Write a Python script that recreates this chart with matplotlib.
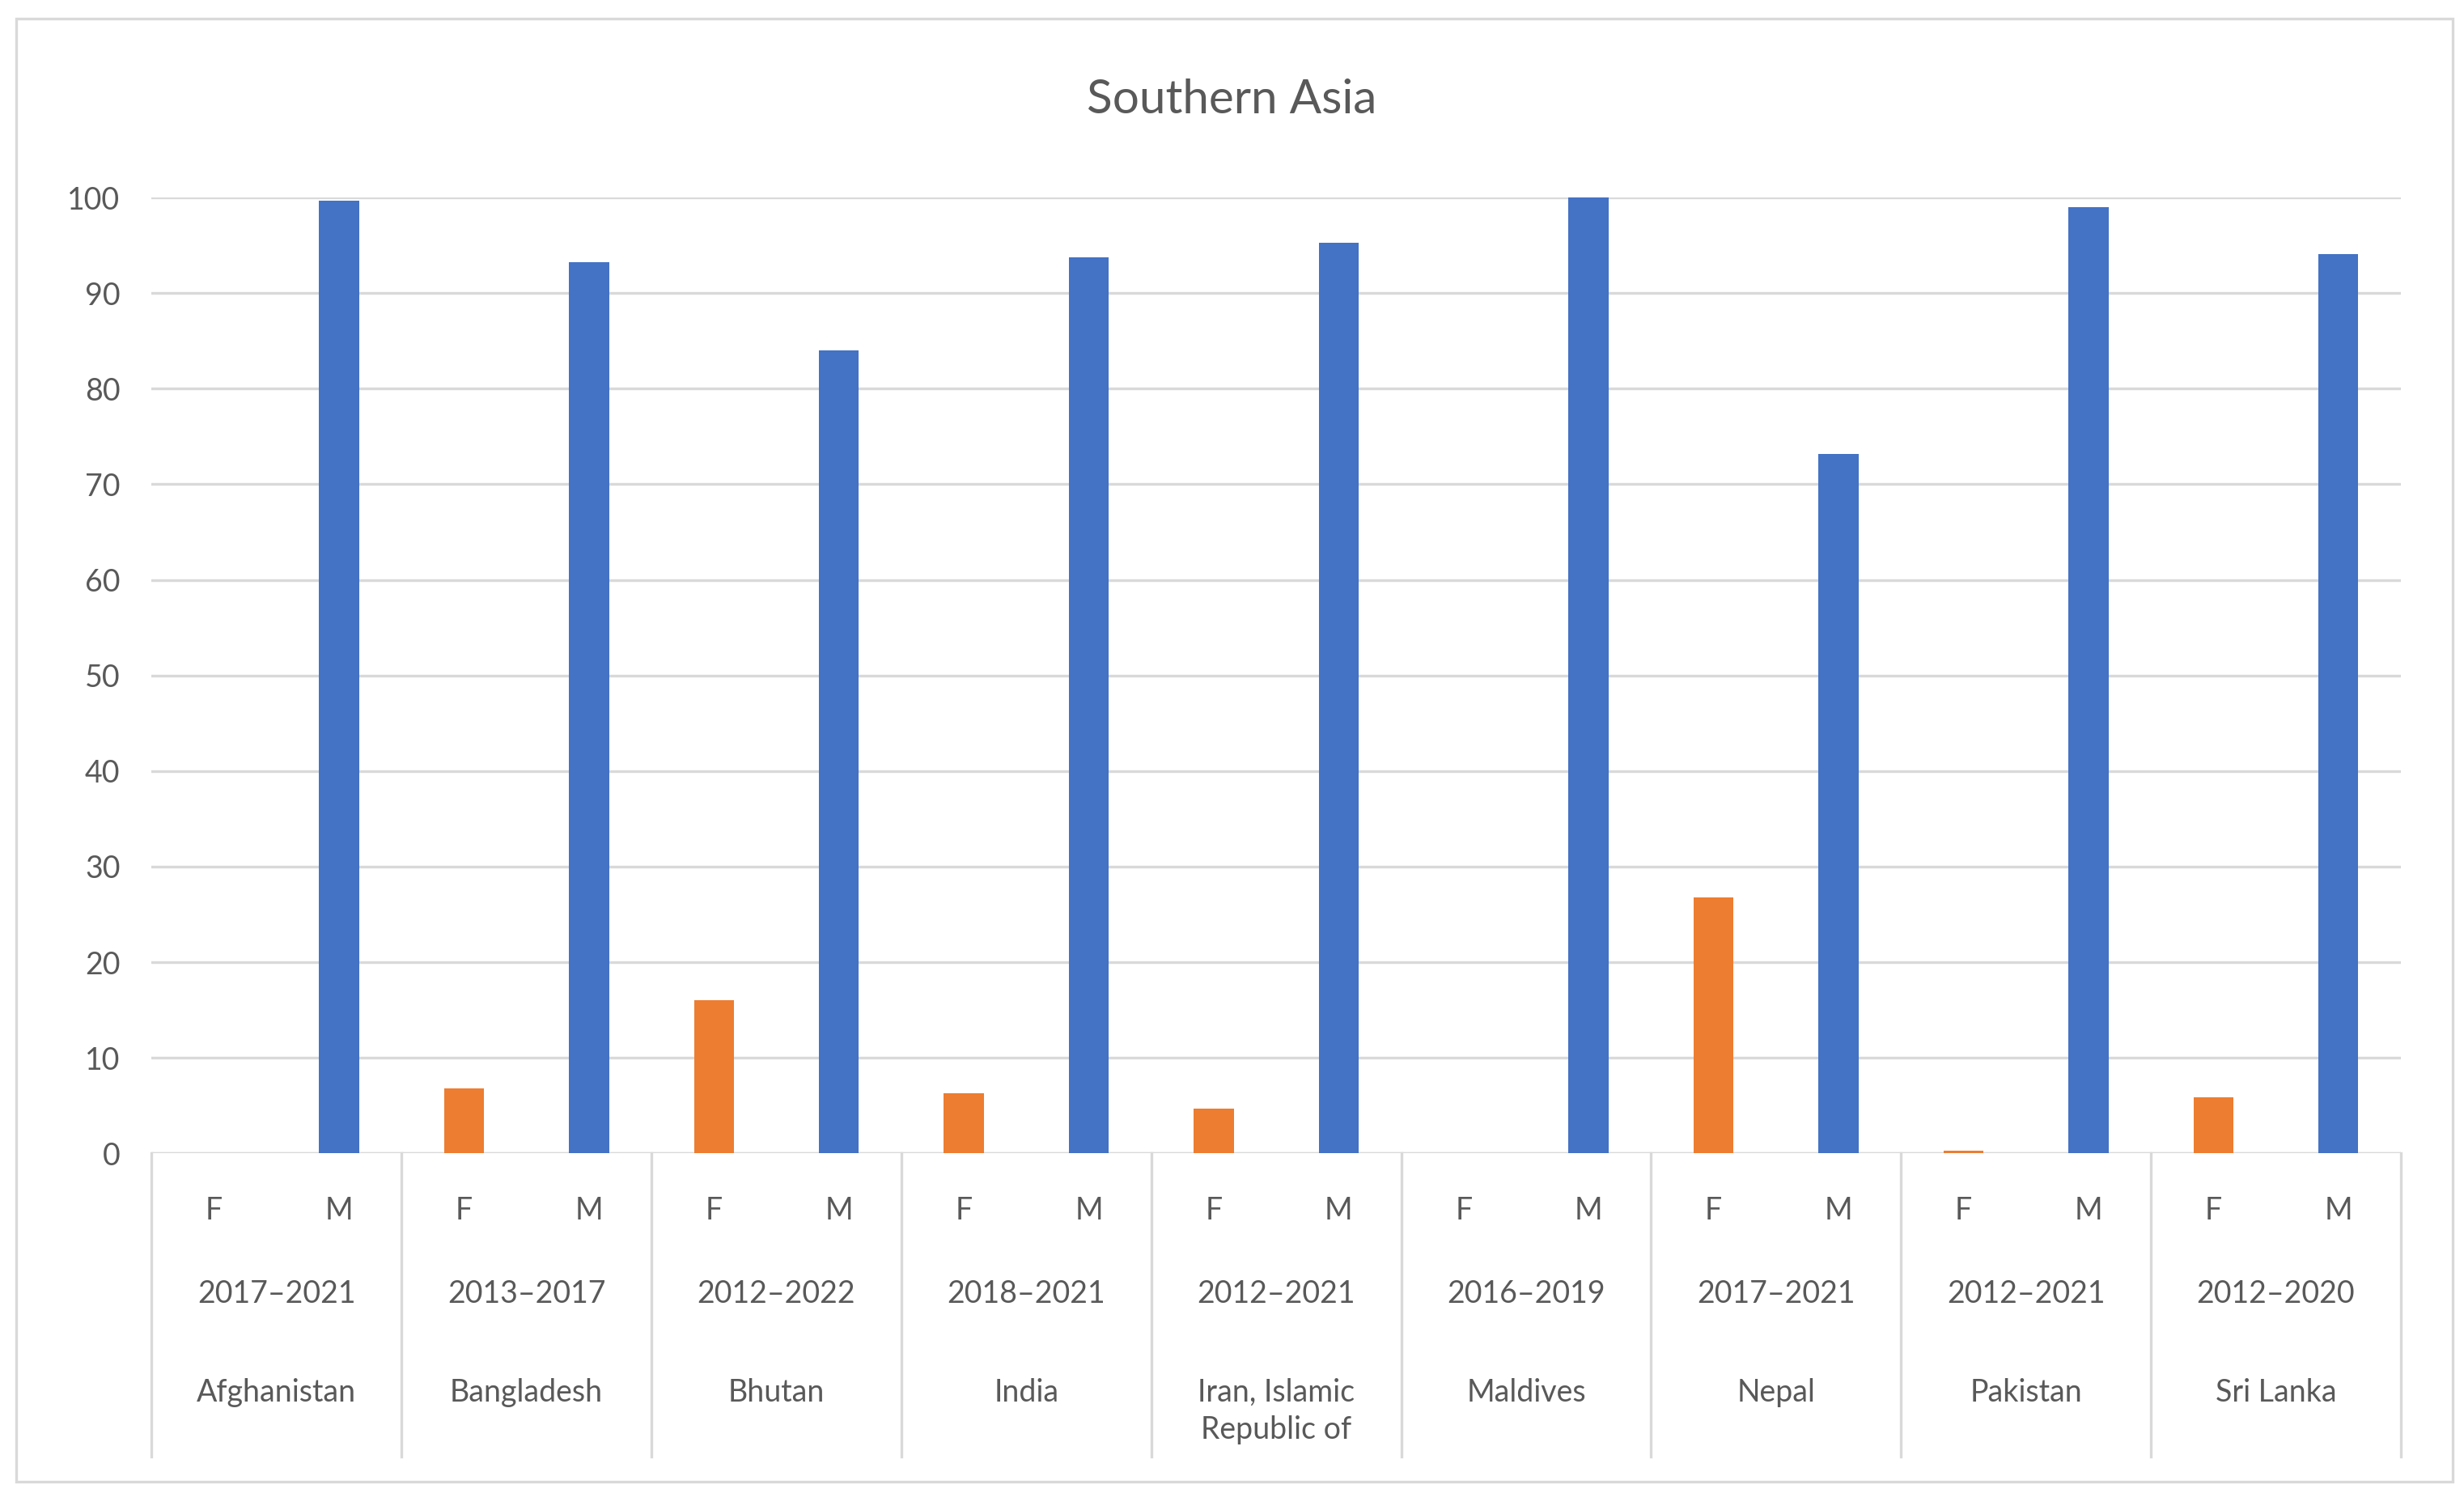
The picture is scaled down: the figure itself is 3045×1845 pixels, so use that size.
import matplotlib
matplotlib.use("Agg")
import matplotlib.pyplot as plt
from matplotlib.patches import Rectangle
import numpy as np

countries = ["Afghanistan", "Bangladesh", "Bhutan", "India", "Iran, Islamic\nRepublic of",
             "Maldives", "Nepal", "Pakistan", "Sri Lanka"]
years = ["2017–2021", "2013–2017", "2012–2022", "2018–2021", "2012–2021",
         "2016–2019", "2017–2021", "2012–2021", "2012–2020"]
female = [0, 6.8, 16.0, 6.3, 4.7, 0, 26.8, 0.3, 5.9]
male = [99.7, 93.2, 84.0, 93.7, 95.3, 100, 73.2, 99.0, 94.1]
sex_labels = ["F", "M"]
yticks = list(range(0, 101, 10))

plt.rcParams['font.family'] = ['Lato', 'DejaVu Sans']
fig = plt.figure(figsize=(15.225, 9.225), dpi=200)
fig.patches.append(Rectangle((10/1560, 1-938/945), 1543/1560, 926/945, transform=fig.transFigure,
                             fill=False, edgecolor='#d9d9d9', lw=1.2))
ax = fig.add_axes([96/1560, 1-730/945, 1424/1560, 605/945])
n = len(countries)
xf = np.arange(n) * 2
xm = xf + 1
w = 0.32
ax.bar(xf, female, w, color='#ed7d31', zorder=3)
ax.bar(xm, male, w, color='#4472c4', zorder=3)
ax.set_xlim(-0.5, 2*n - 0.5)
ax.set_ylim(0, 100)
ax.set_yticks(yticks)
ax.tick_params(axis='y', length=0, labelsize=13.5, labelcolor='#595959', pad=14)
ax.set_xticks([])
ax.grid(axis='y', color='#d9d9d9', lw=1.2, zorder=0)
for s in ax.spines.values():
    s.set_visible(False)
ax.axhline(0, color='#d9d9d9', lw=1.2, zorder=2)
trans = ax.get_xaxis_transform()
for i in range(n):
    for j, lab in enumerate(sex_labels):
        ax.text(2*i + j, -0.0595, lab, transform=trans, ha='center', va='center',
                fontsize=13.5, color='#595959')
    ax.text(2*i + 0.5, -0.147, years[i], transform=trans, ha='center', va='center',
            fontsize=13.5, color='#595959')
    ax.text(2*i + 0.5, -0.235, countries[i], transform=trans, ha='center', va='top',
            fontsize=13.5, color='#595959', linespacing=1.35)
for k in range(n + 1):
    ax.plot([2*k - 0.5]*2, [0, -0.317], transform=trans, color='#d9d9d9', lw=1.2, clip_on=False)
fig.text(780/1560, 1-63/945, "Southern Asia", ha='center', va='center', fontsize=21, color='#595959')
fig.savefig("out.png", dpi=200)
